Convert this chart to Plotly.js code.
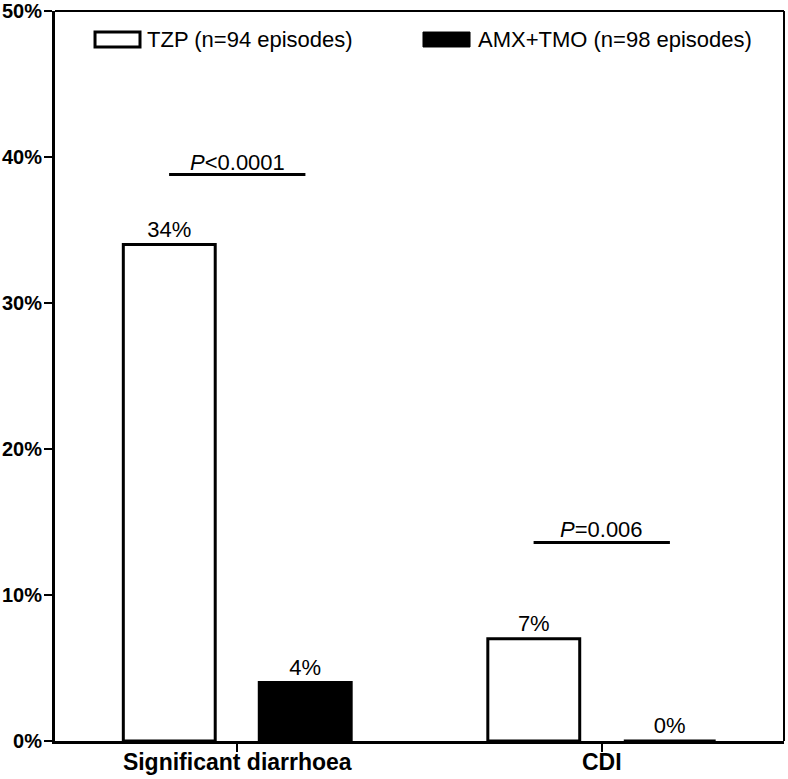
<!DOCTYPE html>
<html>
<head>
<meta charset="utf-8">
<script src="https://cdn.plot.ly/plotly-3.0.1.min.js"></script>
<style>html,body{margin:0;padding:0;background:#fff;}#chart{width:788px;height:779px;}</style>
</head>
<body>
<div id="chart"></div>
<script>
const categories = ["Significant diarrhoea", "CDI"];
const seriesNames = ["TZP (n=94 episodes)", "AMX+TMO (n=98 episodes)"];
const tzpValues = [34, 7];
const amxValues = [4, 0];
const pTexts = ["<i>P</i><0.0001", "<i>P</i>=0.006"];
const pLevels = [38.8, 13.6];
const yTickVals = [0, 10, 20, 30, 40, 50];
const yTickText = ["0%", "10%", "20%", "30%", "40%", "50%"];

const FONT = "Liberation Sans, Arial, sans-serif";
const TXT = 22;
const barLine = {color: "#000", width: 3};

const traces = [
  {type: "bar", name: seriesNames[0], x: categories, y: tzpValues,
   marker: {color: "#fff", line: barLine},
   text: tzpValues.map(v => v + "%"), textposition: "outside", cliponaxis: false,
   textfont: {family: FONT, size: TXT, color: "#000"}, showlegend: false, hoverinfo: "none"},
  {type: "bar", name: seriesNames[1], x: categories, y: amxValues,
   marker: {color: "#000", line: barLine},
   text: amxValues.map(v => v + "%"), textposition: "outside", cliponaxis: false,
   textfont: {family: FONT, size: TXT, color: "#000"}, showlegend: false, hoverinfo: "none"}
];

const half = 0.187;
const shapes = [
  {type: "line", xref: "paper", yref: "paper", x0: 0, x1: 1, y0: 1, y1: 1, line: {color: "#000", width: 2}},
  {type: "line", xref: "paper", yref: "paper", x0: 1, x1: 1, y0: 0, y1: 1, line: {color: "#000", width: 2}},
  {type: "rect", xref: "paper", yref: "paper", x0: 0.0549, x1: 0.1166, y0: 0.9507, y1: 0.9712, fillcolor: "#fff", line: {color: "#000", width: 3}},
  {type: "rect", xref: "paper", yref: "paper", x0: 0.5048, x1: 0.5693, y0: 0.9507, y1: 0.9712, fillcolor: "#000", line: {color: "#000", width: 1}}
];
const annotations = [
  {xref: "paper", yref: "paper", x: 0.1235, y: 0.9603, xanchor: "left", yanchor: "middle", text: seriesNames[0], showarrow: false, font: {family: FONT, size: TXT, color: "#000"}},
  {xref: "paper", yref: "paper", x: 0.5775, y: 0.9603, xanchor: "left", yanchor: "middle", text: seriesNames[1], showarrow: false, font: {family: FONT, size: TXT, color: "#000"}}
];
categories.forEach((c, i) => {
  shapes.push({type: "line", xref: "x", yref: "y", x0: i - half, x1: i + half, y0: pLevels[i], y1: pLevels[i], line: {color: "#000", width: 3}});
  annotations.push({xref: "x", yref: "y", x: i, y: pLevels[i], xanchor: "center", yanchor: "bottom", yshift: -2, text: pTexts[i], showarrow: false, font: {family: FONT, size: TXT, color: "#000"}});
});

const layout = {
  width: 788, height: 779,
  margin: {l: 55, r: 4, t: 11, b: 38, pad: 0},
  paper_bgcolor: "#fff", plot_bgcolor: "#fff",
  barmode: "group", bargap: 0.254, bargroupgap: 0.324,
  showlegend: false,
  font: {family: FONT, color: "#000"},
  xaxis: {type: "category", range: [-0.5, 1.5], showline: true, linecolor: "#000", linewidth: 3,
          ticks: "outside", ticklen: 8, tickwidth: 2, tickcolor: "#000", ticklabelstandoff: -10,
          ticklabeloverflow: "allow",
          tickfont: {family: FONT, size: 23, color: "#000", weight: "bold"}, showgrid: false, zeroline: false, fixedrange: true},
  yaxis: {range: [-0.0001, 50.0001], tickvals: yTickVals, ticktext: yTickText, showline: true, linecolor: "#000", linewidth: 3,
          ticks: "outside", ticklen: 8, tickwidth: 2, tickcolor: "#000", ticklabelstandoff: -2,
          ticklabeloverflow: "allow",
          tickfont: {family: FONT, size: 20, color: "#000", weight: "bold"}, showgrid: false, zeroline: false, fixedrange: true},
  shapes: shapes, annotations: annotations
};
Plotly.newPlot("chart", traces, layout, {displayModeBar: false, staticPlot: true});
</script>
</body>
</html>
